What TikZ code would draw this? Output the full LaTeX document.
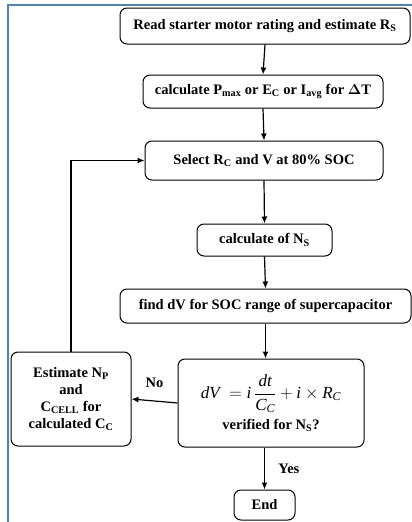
\documentclass[tikz,border=0pt]{standalone}
\usepackage{fontspec}
\setmainfont{Liberation Serif}
\usepackage{amsmath}
\usetikzlibrary{arrows.meta}
\definecolor{framblue}{RGB}{79,129,189}
\tikzset{
    box/.style={draw, rounded corners=7pt, line width=1pt, align=center, inner sep=2pt,
        font=\fontsize{14.5}{17}\selectfont\bfseries},
    lbl/.style={font=\fontsize{14.5}{16}\selectfont\bfseries},
}
\newcommand{\sub}[1]{\textsubscript{#1}}
\newcommand{\ti}[1]{\textit{#1}}
\begin{document}
\begin{tikzpicture}[x=1pt, y=-1pt, >={Latex[length=7pt,width=6pt]}]
    \useasboundingbox (0,0) rectangle (412,522);
    \draw[framblue, line width=2pt] (8,522) -- (8,5) -- (412,5);

    \node[box, minimum width=290, minimum height=36] (read) at (265,26)
        {Read starter motor rating and estimate R\sub{S}};
    \node[box, minimum width=240, minimum height=33] (pmax) at (263,91.5)
        {calculate P\sub{max} or E\sub{C} or I\sub{avg} for $\boldsymbol{\Delta}$T};
    \node[box, minimum width=238, minimum height=39] (select) at (264,160.5)
        {Select R\sub{C} and V at 80\% SOC};
    \node[box, minimum width=135, minimum height=32] (ns) at (264.5,240)
        {calculate of N\sub{S}};
    \node[box, minimum width=291, minimum height=34] (finddv) at (265.5,306)
        {find dV for SOC range of supercapacitor};
    \node[box, minimum width=186, minimum height=88] (verify) at (271,403)
        {\fontsize{17}{19}\mdseries
         $\ti{dV}\;=\ti{i}\,\dfrac{\ti{dt}}{\ti{C}_{\ti{C}}}+\ti{i}\times\ti{R}_{\ti{C}}$\\[5pt]
         \fontsize{14.5}{17}\bfseries verified for N\sub{S}?};
    \node[box, minimum width=120, minimum height=94] (est) at (71,399)
        {Estimate N\sub{P}\\and\\C\sub{CELL} for\\calculated C\sub{C}};
    \node[box, minimum width=61, minimum height=30] (end) at (264.5,505) {End};

    \draw[line width=1.2pt, ->] (read.south) -- (pmax.north);
    \draw[line width=1.2pt, ->] (pmax.south) -- (select.north);
    \draw[line width=1.2pt, ->] (select.south) -- (ns.north);
    \draw[line width=1.2pt, ->] (ns.south) -- (finddv.north);
    \draw[line width=1.2pt, ->] (finddv.south) -- (finddv.south |- verify.north);
    \draw[line width=1.2pt, ->] (verify.west) -- (est.east)
        node[lbl, midway, above=9pt] (no) {No};
    \draw[line width=1.2pt, ->] (end.north |- verify.south) -- (end.north)
        node[lbl, midway, right=10pt] (yes) {Yes};
    \draw[line width=1.2pt, ->] (est.north) |- (select.west);
\end{tikzpicture}
\end{document}
